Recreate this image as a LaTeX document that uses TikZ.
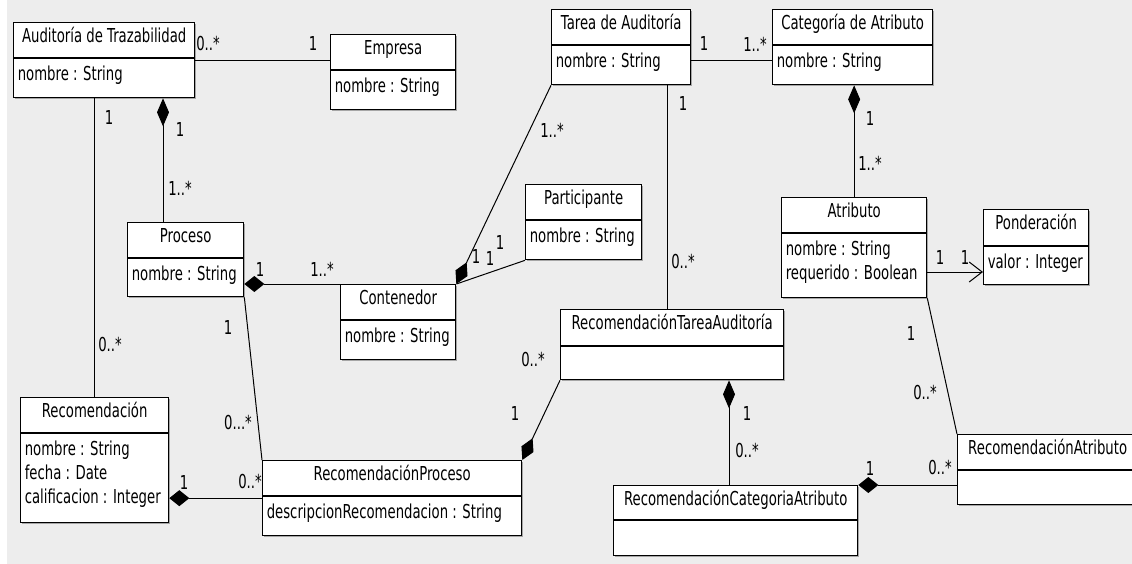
\documentclass[tikz,border=0pt]{standalone}
\usepackage{fontspec}
\usepackage{tikz}
\usepackage{xcolor}
\usetikzlibrary{arrows.meta, calc, shadows}
\newfontfamily\umlfont[FakeStretch=0.69]{DejaVu Sans}
\definecolor{cBack}{RGB}{237,237,237}
\definecolor{cShade}{RGB}{120,120,120}
\tikzset{
	% class boxes
	clsbox/.style  ={rectangle, draw=black, fill=white, line width=1pt, inner sep=0pt, anchor=north west, drop shadow={shadow xshift=1pt, shadow yshift=-1pt, fill=cShade, opacity=0.6}},
	clsline/.style ={line width=1pt},
	clstitle/.style={anchor=base, inner sep=0pt},
	clsattr/.style ={anchor=north west, align=left, inner sep=0pt},
	mult/.style    ={inner sep=0pt},
	% connectors
	assoc/.style   ={line width=0.75pt},
	comp/.style    ={{Diamond[length=15pt, width=12pt]}-, line width=0.75pt},
	vcomp/.style   ={{Diamond[length=21pt, width=9pt]}-, line width=0.75pt},
	dcomp/.style   ={{Diamond[length=18pt, width=10pt]}-, line width=0.75pt},
	nav/.style     ={-{Straight Barb[length=9.75pt, width=15pt, line width=0.75pt]}, line width=0.75pt},
}
\begin{document}
\begin{tikzpicture}[x=0.75pt, y=-0.75pt, every node/.style={font={\umlfont\fontsize{14.4pt}{18pt}\selectfont}}]
	\useasboundingbox (0,0) rectangle (1132,564);
	\clip (0,0) rectangle (1132,564);
	\fill[white] (0,0) rectangle (1132,564);
	\fill[cBack] (7,0) rectangle (1132,564);
	\foreach \n/\x/\y/\w/\h/\s/\t/\a in {
		aud/13/22/181/75/36/{Auditoría de Trazabilidad}/{nombre : String},
		emp/330/34/125/75/36/{Empresa}/{nombre : String},
		tarea/551/9/139/75/36/{Tarea de Auditoría}/{nombre : String},
		cat/772/9/160/75/36/{Categoría de Atributo}/{nombre : String},
		proc/127/222/116/74/36/{Proceso}/{nombre : String},
		part/525/184/116/75/36/{Participante}/{nombre : String},
		cont/340/284/115/75/36/{Contenedor}/{nombre : String},
		atr/781/197/145/100/36/{Atributo}/{nombre : String\\requerido : Boolean},
		pond/983/209/105/75/37/{Ponderación}/{valor : Integer},
		rta/560/309/223/70/37/{RecomendaciónTareaAuditoría}/{},
		rec/20/397/148/125/36/{Recomendación}/{nombre : String\\fecha : Date\\calificacion : Integer},
		rproc/262/460/259/75/36/{RecomendaciónProceso}/{descripcionRecomendacion : String},
		rcat/613/485/244/70/35/{RecomendaciónCategoriaAtributo}/{},
		ratr/957/434/180/70/36/{RecomendaciónAtributo}/{}} {
		\node[clsbox, minimum width=\w*0.75pt, minimum height=\h*0.75pt] (\n) at (\x,\y) {};
		\draw[clsline] ([shift={(0,\s)}]\n.north west) -- ([shift={(0,\s)}]\n.north east);
		\node[clstitle] at ([shift={(0,20)}]\n.north) {\t};
		\node[clsattr] at ([shift={(4.5,\s+7.5)}]\n.north west) {\a};
	}
	\draw[assoc] (aud.east) -- (aud.east -| emp.west);
	\draw[vcomp] ([shift={(36,0)}]proc.north west |- aud.south) -- ([shift={(36,0)}]proc.north west);
	\draw[assoc] (rec.north |- aud.south) -- (rec.north);
	\draw[comp] (cont.north west -| proc.east) -- (cont.north west);
	\draw[assoc] (proc.south east) -- (rproc.north west);
	\draw[comp] (rproc.west -| rec.east) -- (rproc.west);
	\draw[dcomp] (cont.north east) -- (tarea.south west);
	\draw[assoc] (cont.north east) -- (part.south west);
	\draw[assoc] ([shift={(0,51)}]tarea.north east) -- ([shift={(0,51)}]cat.north west);
	\draw[assoc] ([shift={(107,0)}]rta.north west |- tarea.south) -- ([shift={(107,0)}]rta.north west);
	\draw[vcomp] (atr.north |- cat.south) -- (atr.north);
	\draw[nav] ([shift={(0,63)}]pond.north west -| atr.east) -- ([shift={(0,63)}]pond.north west);
	\draw[assoc] (atr.south east) -- (ratr.north west);
	\draw[vcomp] ([shift={(116,0)}]rcat.north west |- rta.south) -- ([shift={(116,0)}]rcat.north west);
	\draw[dcomp] (rproc.north east) -- (rta.south west);
	\draw[comp] (rcat.north east) -- (rcat.north east -| ratr.west);
	\foreach \x/\y/\m in {208/44/{0..*}, 313/44/{1}, 109/117/{1}, 110/345/{0..*}, 180/130/{1}, 180/188/{1..*},
		260/269/{1}, 322/269/{1..*}, 228/327/{1}, 238/423/{0...*}, 184/482/{1}, 250/482/{0..*},
		533/360/{0..*}, 515/413/{1}, 552/130/{1..*}, 476/256/{1}, 490/258/{1}, 500/242/{1},
		704/44/{1}, 755/44/{1..*}, 683/104/{1}, 683/262/{0..*}, 870/118/{1}, 870/163/{1..*},
		940/257/{1}, 965/257/{1}, 911/333/{1}, 925/393/{0..*}, 870/468/{1}, 940/468/{0..*},
		747/413/{1}, 747/451/{0..*}}
		\node[mult] at (\x,\y) {\m};
\end{tikzpicture}
\end{document}
